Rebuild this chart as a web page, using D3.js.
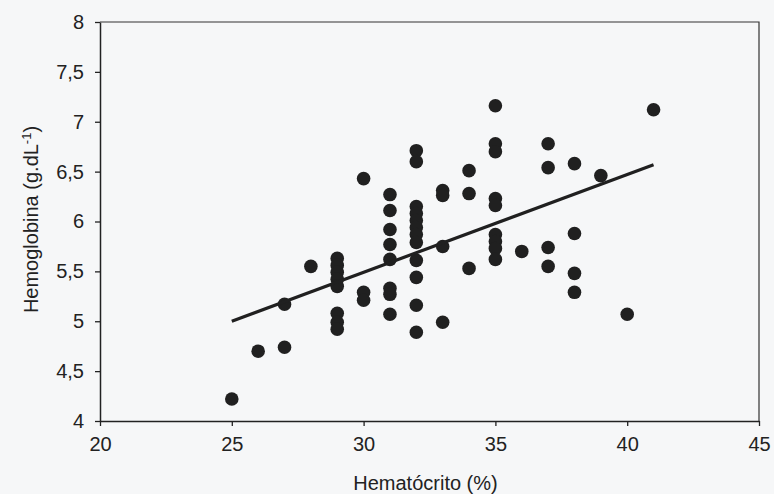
<!DOCTYPE html>
<html>
<head>
<meta charset="utf-8">
<script src="https://cdn.jsdelivr.net/npm/d3@7"></script>
<style>
  html, body { margin: 0; padding: 0; background: #f6f7f8; }
  svg { display: block; }
</style>
</head>
<body>
<svg id="chart"></svg>
<script>
// hematocrito (%) and hemoglobina (g/dL), one entry per dot
const hematocrito = [
  25, 26, 27, 27, 28,
  29, 29, 29, 29, 29, 29, 29, 29,
  30, 30, 30,
  31, 31, 31, 31, 31, 31, 31, 31,
  32, 32, 32, 32, 32, 32, 32, 32, 32, 32, 32, 32,
  33, 33, 33, 33,
  34, 34, 34,
  35, 35, 35, 35, 35, 35, 35, 35, 35,
  36,
  37, 37, 37, 37,
  38, 38, 38, 38,
  39, 40, 41
];
const hemoglobina = [
  4.22, 4.70, 4.74, 5.17, 5.55,
  5.63, 5.56, 5.49, 5.42, 5.35, 5.08, 4.99, 4.92,
  6.43, 5.29, 5.21,
  6.27, 6.11, 5.92, 5.77, 5.62, 5.33, 5.27, 5.07,
  6.71, 6.60, 6.15, 6.08, 6.01, 5.94, 5.87, 5.79, 5.61, 5.44, 5.16, 4.89,
  6.31, 6.26, 5.75, 4.99,
  6.51, 6.28, 5.53,
  7.16, 6.78, 6.70, 6.23, 6.16, 5.87, 5.80, 5.73, 5.62,
  5.70,
  6.78, 6.54, 5.74, 5.55,
  6.58, 5.88, 5.48, 5.29,
  6.46, 5.07, 7.12
];
// fitted line drawn in the figure
const trendX = [25, 41];
const trendY = [5.0, 6.57];

const xTicks = [20, 25, 30, 35, 40, 45];
const yTicks = [4, 4.5, 5, 5.5, 6, 6.5, 7, 7.5, 8];

const W = 774, H = 494;
const margin = {top: 22, right: 15, bottom: 73, left: 100};
const width = W - margin.left - margin.right;
const height = H - margin.top - margin.bottom;

const svg = d3.select('#chart').attr('width', W).attr('height', H);
const g = svg.append('g').attr('transform', `translate(${margin.left},${margin.top})`);

const x = d3.scaleLinear().domain([20, 45]).range([0, width]);
const y = d3.scaleLinear().domain([4, 8]).range([height, 0]);

const fmt = d => String(d).replace('.', ',');

// frame top/right
g.append('path')
  .attr('d', `M0,0H${width}V${height}`)
  .attr('fill', 'none')
  .attr('stroke', '#333')
  .attr('stroke-width', 1.2);

g.append('g')
  .attr('class', 'axis x-axis')
  .attr('transform', `translate(0,${height})`)
  .call(d3.axisBottom(x).tickValues(xTicks).tickFormat(fmt).tickSize(5).tickPadding(11).tickSizeOuter(0));

g.append('g')
  .attr('class', 'axis y-axis')
  .call(d3.axisLeft(y).tickValues(yTicks).tickFormat(fmt).tickSize(5).tickPadding(11).tickSizeOuter(0));

svg.selectAll('.axis path').attr('stroke', '#222').attr('stroke-width', 1.5);
svg.selectAll('.axis line').attr('stroke', '#222').attr('stroke-width', 1.3);
svg.selectAll('.axis text')
  .attr('fill', '#222')
  .style('font', '20px "Liberation Sans", Arial, sans-serif');

// dots
g.append('g')
  .selectAll('circle')
  .data(hematocrito.map((h, i) => ({h, v: hemoglobina[i]})))
  .enter().append('circle')
  .attr('cx', d => x(d.h))
  .attr('cy', d => y(d.v))
  .attr('r', 6.8)
  .attr('fill', '#202020');

// trend line
g.append('path')
  .datum(trendX.map((t, i) => [t, trendY[i]]))
  .attr('d', d3.line().x(d => x(d[0])).y(d => y(d[1])))
  .attr('fill', 'none')
  .attr('stroke', '#202020')
  .attr('stroke-width', 3.2);

// axis titles
svg.append('text')
  .attr('x', margin.left + width / 2 - 4)
  .attr('y', 490)
  .attr('text-anchor', 'middle')
  .attr('fill', '#222')
  .style('font', '20px "Liberation Sans", Arial, sans-serif')
  .text('Hematócrito (%)');

const yt = svg.append('text')
  .attr('transform', `translate(38,${margin.top + height / 2 - 2}) rotate(-90)`)
  .attr('text-anchor', 'middle')
  .attr('fill', '#222')
  .style('font', '20px "Liberation Sans", Arial, sans-serif');
yt.append('tspan').text('Hemoglobina (g.dL');
yt.append('tspan').attr('baseline-shift', 'super').style('font-size', '13px').text('-1');
yt.append('tspan').text(')');
</script>
</body>
</html>
